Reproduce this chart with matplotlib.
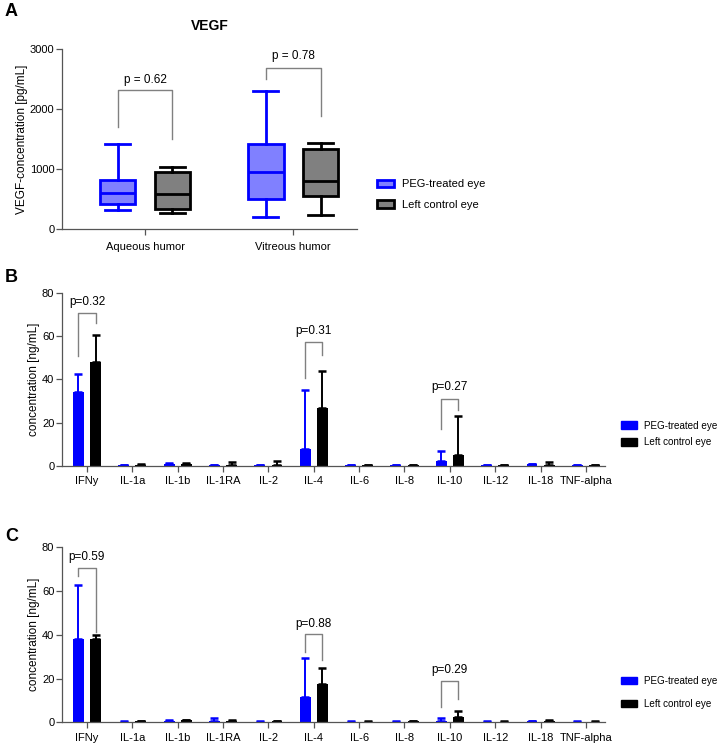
import matplotlib
matplotlib.use("Agg")
import matplotlib.pyplot as plt
from matplotlib.patches import Patch
import numpy as np

plt.rcParams['font.family'] = ['Liberation Sans', 'DejaVu Sans']

# ---------------- Data ----------------
# Panel A: VEGF box plots (pg/mL)
vegf_groups = ['Aqueous humor', 'Vitreous humor']
vegf_peg_whislo = [317, 206]
vegf_peg_q1 = [417, 500]
vegf_peg_med = [594, 944]
vegf_peg_q3 = [810, 1417]
vegf_peg_whishi = [1417, 2300]
vegf_ctl_whislo = [261, 228]
vegf_ctl_q1 = [333, 550]
vegf_ctl_med = [583, 800]
vegf_ctl_q3 = [956, 1328]
vegf_ctl_whishi = [1028, 1439]
vegf_p_labels = ['p = 0.62', 'p = 0.78']
vegf_bracket_top = [2317, 2678]
vegf_bracket_left = [1694, 2500]
vegf_bracket_right = [1494, 1889]
vegf_p_y = [2480, 2883]

# Panels B and C: cytokines (ng/mL)
cytokines = ['IFNy', 'IL-1a', 'IL-1b', 'IL-1RA', 'IL-2', 'IL-4', 'IL-6', 'IL-8',
             'IL-10', 'IL-12', 'IL-18', 'TNF-alpha']

b_peg_mean = [34.3, 0.4, 1.0, 0.4, 0.4, 7.7, 0.4, 0.4, 2.4, 0.3, 0.7, 0.3]
b_peg_upper = [42.3, 0.6, 1.3, 0.6, 0.6, 35.0, 0.6, 0.6, 6.9, 0.4, 1.0, 0.4]
b_ctl_mean = [47.8, 0.6, 0.8, 0.6, 0.6, 26.6, 0.4, 0.4, 5.1, 0.3, 0.6, 0.3]
b_ctl_upper = [60.4, 1.0, 1.2, 1.9, 2.5, 43.8, 0.6, 0.6, 23.2, 0.4, 1.8, 0.4]
b_p_idx = [0, 5, 8]
b_p_labels = ['p=0.32', 'p=0.31', 'p=0.27']
b_bracket_top = [70.8, 57.4, 30.8]
b_bracket_left = [50.8, 40.8, 16.9]
b_bracket_right = [65.8, 51.2, 25.8]
b_p_y = [75.8, 62.4, 36.6]

c_peg_mean = [38.1, 0.3, 0.6, 0.4, 0.3, 11.7, 0.3, 0.3, 0.7, 0.3, 0.5, 0.3]
c_peg_upper = [62.8, 0.4, 0.9, 2.1, 0.4, 29.5, 0.4, 0.4, 2.0, 0.4, 0.7, 0.4]
c_ctl_mean = [38.0, 0.4, 0.9, 0.8, 0.4, 17.4, 0.3, 0.4, 2.6, 0.3, 0.6, 0.3]
c_ctl_upper = [39.9, 0.5, 1.2, 1.2, 0.5, 25.0, 0.4, 0.5, 5.0, 0.4, 0.9, 0.4]
c_p_idx = [0, 5, 8]
c_p_labels = ['p=0.59', 'p=0.88', 'p=0.29']
c_bracket_top = [70.5, 40.2, 18.9]
c_bracket_left = [66.9, 32.0, 7.1]
c_bracket_right = [41.1, 28.5, 10.6]
c_p_y = [75.7, 44.9, 23.9]

legend_labels = ['PEG-treated eye', 'Left control eye']

# ---------------- Style ----------------
BLUE = '#0000FF'
LBLUE = '#8080FF'
GREY = '#808080'
AX = '#555555'
FS = 8
W, H = 720, 744

fig = plt.figure(figsize=(W / 100, H / 100), dpi=100)

def style_axes(ax, xpad=3.5):
    for s in ['top', 'right']:
        ax.spines[s].set_visible(False)
    for s in ['left', 'bottom']:
        ax.spines[s].set_color(AX)
        ax.spines[s].set_linewidth(0.9)
    ax.tick_params(axis='both', colors=AX, labelcolor='black', labelsize=FS,
                   length=4, width=0.9, direction='out')
    ax.tick_params(axis='y', pad=1.5)
    ax.tick_params(axis='x', pad=xpad)

# ---------------- Panel A ----------------
axA = fig.add_axes([62 / W, 1 - 229 / H, 295 / W, 180 / H])
style_axes(axA, xpad=5)
off = 0.185
bw = 0.24
xs = np.arange(len(vegf_groups))
peg_stats = []
ctl_stats = []
for i in range(len(vegf_groups)):
    peg_stats.append(dict(whislo=vegf_peg_whislo[i], q1=vegf_peg_q1[i], med=vegf_peg_med[i],
                          q3=vegf_peg_q3[i], whishi=vegf_peg_whishi[i], fliers=[]))
    ctl_stats.append(dict(whislo=vegf_ctl_whislo[i], q1=vegf_ctl_q1[i], med=vegf_ctl_med[i],
                          q3=vegf_ctl_q3[i], whishi=vegf_ctl_whishi[i], fliers=[]))
lw = 2.0
for stats, pos, fc, ec in [(peg_stats, xs - off, LBLUE, BLUE), (ctl_stats, xs + off, GREY, 'black')]:
    axA.bxp(stats, positions=pos, widths=bw, patch_artist=True, showfliers=False,
            capwidths=0.17, manage_ticks=False,
            boxprops=dict(facecolor=fc, edgecolor=ec, linewidth=lw),
            medianprops=dict(color=ec, linewidth=lw),
            whiskerprops=dict(color=ec, linewidth=lw),
            capprops=dict(color=ec, linewidth=lw))
for i in range(len(vegf_groups)):
    xl, xr = xs[i] - off, xs[i] + off
    axA.plot([xl, xl, xr, xr], [vegf_bracket_left[i], vegf_bracket_top[i], vegf_bracket_top[i],
                                vegf_bracket_right[i]], color=GREY, lw=1)
    axA.text(xs[i], vegf_p_y[i], vegf_p_labels[i], ha='center', va='center', fontsize=8.5)
axA.set_xlim(-0.56, 1.43)
axA.set_ylim(0, 3000)
axA.set_yticks([0, 1000, 2000, 3000])
axA.set_xticks(xs)
axA.set_xticklabels(vegf_groups)
axA.set_ylabel('VEGF-concentration [pg/mL]', fontsize=8.5, labelpad=1.5)
axA.set_title('VEGF', fontsize=10, fontweight='bold', pad=14)

legA = [Patch(facecolor=LBLUE, edgecolor=BLUE, linewidth=2),
        Patch(facecolor=GREY, edgecolor='black', linewidth=2)]
fig.legend(legA, legend_labels, loc='center left', bbox_to_anchor=(377 / W, 1 - 194.5 / H),
           frameon=False, fontsize=FS, borderpad=0, borderaxespad=0,
           handlelength=1.5, handleheight=0.65, handletextpad=0.75, labelspacing=0.95)

# ---------------- Panels B & C ----------------
def bar_panel(ax, peg_m, peg_u, ctl_m, ctl_u, p_idx, p_lab, btop, bleft, bright, py):
    style_axes(ax)
    x = np.arange(len(cytokines))
    o = 0.19
    w = 0.24
    peg_m = np.array(peg_m); ctl_m = np.array(ctl_m)
    peg_e = [np.zeros(len(x)), np.array(peg_u) - peg_m]
    ctl_e = [np.zeros(len(x)), np.array(ctl_u) - ctl_m]
    ax.bar(x - o, peg_m, w, color=BLUE, yerr=peg_e,
           error_kw=dict(ecolor=BLUE, elinewidth=1.4, capsize=3.2, capthick=1.8))
    ax.bar(x + o, ctl_m, w, color='black', yerr=ctl_e,
           error_kw=dict(ecolor='black', elinewidth=1.4, capsize=3.2, capthick=1.8))
    for j, i in enumerate(p_idx):
        xl, xr = x[i] - o, x[i] + o
        ax.plot([xl, xl, xr, xr], [bleft[j], btop[j], btop[j], bright[j]], color=GREY, lw=1)
        ax.text(x[i], py[j], p_lab[j], ha='center', va='center', fontsize=8.5)
    ax.set_xlim(-0.55, 11.42)
    ax.set_ylim(0, 80)
    ax.set_yticks([0, 20, 40, 60, 80])
    ax.set_xticks(x)
    ax.set_xticklabels(cytokines)
    ax.set_ylabel('concentration [ng/mL]', fontsize=8.5, labelpad=1.5)

axB = fig.add_axes([62 / W, 1 - 466 / H, 543 / W, 173.3 / H])
bar_panel(axB, b_peg_mean, b_peg_upper, b_ctl_mean, b_ctl_upper, b_p_idx, b_p_labels,
          b_bracket_top, b_bracket_left, b_bracket_right, b_p_y)
axC = fig.add_axes([62 / W, 1 - 722.3 / H, 543 / W, 175 / H])
bar_panel(axC, c_peg_mean, c_peg_upper, c_ctl_mean, c_ctl_upper, c_p_idx, c_p_labels,
          c_bracket_top, c_bracket_left, c_bracket_right, c_p_y)

legBC = [Patch(facecolor=BLUE, edgecolor=BLUE), Patch(facecolor='black', edgecolor='black')]
LFS = 7.1
fig.legend(legBC, legend_labels, loc='center left', bbox_to_anchor=(621 / W, 1 - 434 / H),
           frameon=False, fontsize=LFS, borderpad=0, borderaxespad=0,
           handlelength=1.65, handleheight=0.8, handletextpad=0.65, labelspacing=0.7)
fig.legend(legBC, legend_labels, loc='center left', bbox_to_anchor=(621 / W, 1 - 692.3 / H),
           frameon=False, fontsize=LFS, borderpad=0, borderaxespad=0,
           handlelength=1.65, handleheight=0.8, handletextpad=0.65, labelspacing=1.3)

# Panel letters
fig.text(5 / W, 1 - 12 / H, 'A', fontsize=13, fontweight='bold', va='center', ha='left')
fig.text(5 / W, 1 - 278 / H, 'B', fontsize=13, fontweight='bold', va='center', ha='left')
fig.text(5 / W, 1 - 536.7 / H, 'C', fontsize=13, fontweight='bold', va='center', ha='left')

fig.savefig('out.png', dpi=100)
